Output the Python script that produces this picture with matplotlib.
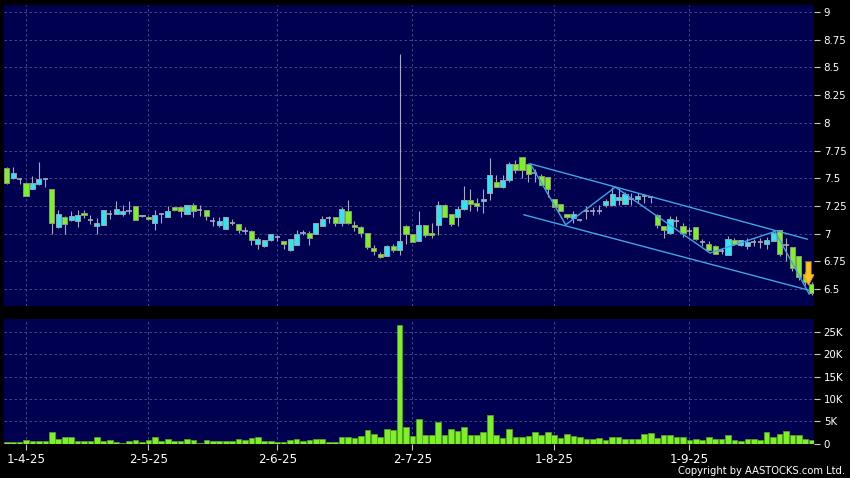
import matplotlib
matplotlib.use("Agg")
import matplotlib.pyplot as plt
from matplotlib.patches import Polygon
import numpy as np

# ---------------------------------------------------------------------------
# data, one candle per trading day
# ---------------------------------------------------------------------------
opens = [7.59, 7.50, 7.49, 7.46, 7.40, 7.45, 7.49, 7.40, 7.06, 7.15,
         7.12, 7.11, 7.19, 7.12, 7.07, 7.08, 7.18, 7.18, 7.18, 7.20,
         7.25, 7.16, 7.15, 7.10, 7.18, 7.15, 7.24, 7.24, 7.18, 7.26,
         7.21, 7.21, 7.11, 7.08, 7.04, 7.10, 7.09, 7.02, 7.02, 6.91,
         6.89, 6.94, 6.97, 6.93, 6.85, 6.90, 7.01, 7.01, 7.00, 7.07,
         7.14, 7.15, 7.10, 7.20, 7.08, 7.06, 7.01, 6.87, 6.82, 6.80,
         6.89, 6.85, 7.07, 7.00, 6.93, 7.08, 7.01, 7.08, 7.26, 7.18,
         7.15, 7.22, 7.30, 7.28, 7.29, 7.37, 7.47, 7.42, 7.48, 7.63,
         7.69, 7.63, 7.55, 7.52, 7.51, 7.31, 7.27, 7.18, 7.14, 7.12,
         7.20, 7.20, 7.20, 7.26, 7.26, 7.30, 7.27, 7.31, 7.31, 7.34,
         7.33, 7.17, 7.07, 7.01, 7.11, 7.07, 7.02, 7.06, 6.92, 6.91,
         6.89, 6.84, 6.81, 6.94, 6.90, 6.89, 6.92, 6.92, 6.91, 6.93,
         7.03, 6.90, 6.88, 6.80, 6.62, 6.55]
highs = [7.60, 7.60, 7.50, 7.47, 7.52, 7.65, 7.50, 7.40, 7.21, 7.16,
         7.20, 7.21, 7.21, 7.165, 7.14, 7.21, 7.21, 7.29, 7.26, 7.29,
         7.25, 7.17, 7.16, 7.21, 7.19, 7.25, 7.24, 7.24, 7.26, 7.28,
         7.26, 7.21, 7.15, 7.15, 7.15, 7.13, 7.09, 7.06, 7.03, 6.97,
         6.94, 7.00, 6.99, 6.93, 6.95, 7.03, 7.03, 7.02, 7.10, 7.16,
         7.16, 7.15, 7.24, 7.30, 7.11, 7.07, 7.01, 6.90, 6.83, 6.90,
         6.91, 8.62, 7.08, 7.00, 7.20, 7.08, 7.10, 7.29, 7.27, 7.18,
         7.25, 7.43, 7.40, 7.32, 7.40, 7.68, 7.53, 7.53, 7.65, 7.66,
         7.69, 7.64, 7.58, 7.54, 7.51, 7.31, 7.27, 7.18, 7.20, 7.13,
         7.25, 7.24, 7.26, 7.31, 7.42, 7.41, 7.38, 7.37, 7.37, 7.36,
         7.34, 7.18, 7.07, 7.16, 7.16, 7.10, 7.06, 7.06, 6.95, 6.93,
         6.90, 6.87, 6.98, 6.96, 6.94, 6.96, 6.95, 6.96, 6.97, 7.03,
         7.03, 6.96, 6.88, 6.80, 6.65, 6.56]
lows = [7.45, 7.49, 7.45, 7.34, 7.40, 7.44, 7.42, 7.00, 7.05, 7.00,
        7.11, 7.06, 7.14, 7.09, 7.00, 7.08, 7.13, 7.18, 7.16, 7.18,
        7.12, 7.15, 7.12, 7.03, 7.10, 7.15, 7.20, 7.15, 7.18, 7.15,
        7.16, 7.12, 7.07, 7.06, 7.04, 7.08, 7.01, 7.00, 6.90, 6.86,
        6.88, 6.93, 6.93, 6.86, 6.84, 6.90, 6.99, 6.90, 7.00, 7.07,
        7.10, 7.07, 7.07, 7.09, 7.02, 6.97, 6.86, 6.81, 6.78, 6.80,
        6.83, 6.81, 6.91, 6.92, 6.93, 6.97, 6.96, 6.99, 7.15, 7.07,
        7.07, 7.21, 7.20, 7.20, 7.19, 7.30, 7.42, 7.41, 7.47, 7.55,
        7.50, 7.47, 7.47, 7.44, 7.33, 7.24, 7.20, 7.13, 7.10, 7.11,
        7.13, 7.17, 7.18, 7.24, 7.25, 7.26, 7.27, 7.26, 7.28, 7.28,
        7.28, 7.05, 6.96, 7.00, 7.06, 6.97, 6.99, 6.94, 6.89, 6.85,
        6.82, 6.82, 6.81, 6.90, 6.89, 6.86, 6.89, 6.87, 6.86, 6.93,
        6.80, 6.75, 6.66, 6.58, 6.54, 6.45]
closes = [7.46, 7.55, 7.49, 7.34, 7.46, 7.49, 7.49, 7.10, 7.18, 7.09,
          7.16, 7.17, 7.17, 7.12, 7.10, 7.21, 7.18, 7.22, 7.20, 7.20,
          7.12, 7.17, 7.13, 7.17, 7.18, 7.20, 7.21, 7.20, 7.26, 7.20,
          7.21, 7.16, 7.11, 7.11, 7.15, 7.10, 7.03, 7.02, 6.94, 6.95,
          6.94, 7.00, 6.97, 6.91, 6.95, 7.00, 7.01, 6.96, 7.10, 7.13,
          7.14, 7.10, 7.22, 7.10, 7.06, 7.01, 6.88, 6.84, 6.79, 6.89,
          6.85, 6.93, 7.00, 6.92, 7.08, 6.99, 6.99, 7.26, 7.15, 7.09,
          7.22, 7.30, 7.27, 7.25, 7.31, 7.53, 7.42, 7.48, 7.63, 7.57,
          7.57, 7.54, 7.55, 7.44, 7.40, 7.24, 7.20, 7.15, 7.18, 7.12,
          7.20, 7.20, 7.20, 7.29, 7.36, 7.33, 7.36, 7.31, 7.34, 7.34,
          7.33, 7.08, 7.03, 7.13, 7.11, 7.01, 7.02, 6.95, 6.92, 6.85,
          6.82, 6.84, 6.95, 6.91, 6.94, 6.92, 6.92, 6.92, 6.94, 7.01,
          6.82, 6.90, 6.69, 6.61, 6.56, 6.46]
volumes = [300, 300, 300, 700, 450, 450, 450, 2500, 1000, 1500,
           1350, 600, 600, 450, 1400, 600, 750, 300, 200, 450,
           750, 300, 750, 1500, 450, 1100, 600, 450, 900, 750,
           200, 800, 500, 500, 500, 600, 1100, 750, 1200, 1400,
           500, 450, 400, 400, 700, 1100, 600, 800, 1100, 1000,
           300, 400, 1400, 1350, 1300, 1650, 3000, 2200, 1500, 3150,
           3000, 26650, 3800, 1650, 5400, 1900, 1900, 4850, 1900, 3300,
           2850, 3700, 1900, 1950, 2550, 6350, 1900, 1300, 3150, 1500,
           1550, 1650, 2550, 2000, 2550, 1950, 1300, 2100, 1650, 1350,
           1100, 900, 1200, 800, 1500, 1500, 1050, 1100, 900, 2100,
           2250, 1200, 1900, 1950, 1400, 1500, 700, 1050, 700, 1400,
           1000, 1050, 1800, 750, 450, 1000, 1000, 700, 2500, 1400,
           2100, 2900, 1900, 1800, 1100, 700]

date_labels = ['1-4-25', '2-5-25', '2-6-25', '2-7-25', '1-8-25', '1-9-25']
date_index = [3, 22, 42, 63, 85, 106]

# drawn trend lines (candle index, price)
zigzag_x = [81.3, 86.8, 94.5, 109.2, 119.3, 124.6]
zigzag_y = [7.63, 7.08, 7.42, 6.825, 7.02, 6.455]
upper_x = [81.3, 124.3]
upper_y = [7.63, 6.95]
lower_x = [80.3, 124.5]
lower_y = [7.17, 6.49]

price_ticks = [6.5, 6.75, 7, 7.25, 7.5, 7.75, 8, 8.25, 8.5, 8.75, 9]
vol_ticks = [0, 5000, 10000, 15000, 20000, 25000]

# ---------------------------------------------------------------------------
BG = '#000050'
GREEN = '#7ef02a'
CYAN = '#2ee6f0'
GRID = '#50508c'
WICK = '#a8a8c0'
LINE = '#3fa4e6'

plt.rcParams['font.family'] = 'DejaVu Sans'

o = np.array(opens)
h = np.array(highs)
l = np.array(lows)
c = np.array(closes)
v = np.array(volumes)
x = np.arange(len(o))

fig = plt.figure(figsize=(8.5, 4.78), dpi=100, facecolor='black')
ax = fig.add_axes([4 / 850, 1 - 306 / 478, 810 / 850, 301 / 478])
axv = fig.add_axes([4 / 850, 1 - 443.5 / 478, 810 / 850, 124.5 / 478])

for a in (ax, axv):
    a.set_facecolor(BG)
    for s in a.spines.values():
        s.set_visible(False)
    a.set_xlim(-0.42, 125.35)
    a.set_xticks(date_index)
    a.yaxis.tick_right()
    a.grid(True, color=GRID, lw=0.6, ls=(0, (3, 3)), zorder=0)
    a.set_axisbelow(True)
    a.tick_params(axis='y', colors='#c8c8c8', labelcolor='white', length=4,
                  width=0.8, pad=3, labelsize=7.4)
    a.tick_params(axis='x', colors='#c8c8c8', labelcolor='white', length=4,
                  width=0.8, pad=3, labelsize=8.6)

# ---- price candles ----
up = c > o
dn = c < o
flat = c == o
ax.vlines(x, l, h, color=WICK, lw=0.8, zorder=2)
ax.bar(x[up], (c - o)[up], bottom=o[up], width=0.8, color=CYAN,
       edgecolor='#9aa0b0', lw=0.7, zorder=3)
ax.bar(x[dn], (o - c)[dn], bottom=c[dn], width=0.8, color=GREEN,
       edgecolor='#8c9a70', lw=0.7, zorder=3)
ax.hlines(c[flat], x[flat] - 0.4, x[flat] + 0.4, color=WICK, lw=1.2, zorder=3)

ax.plot(zigzag_x, zigzag_y, color=LINE, lw=1.0, zorder=4)
ax.plot(upper_x, upper_y, color=LINE, lw=1.0, zorder=4)
ax.plot(lower_x, lower_y, color=LINE, lw=1.0, zorder=4)

# yellow down arrow at the last candles
ax_x, top, neck, tip = 124.5, 6.745, 6.63, 6.535
arrow = Polygon([(ax_x - 0.4, top), (ax_x + 0.4, top), (ax_x + 0.4, neck),
                 (ax_x + 0.85, neck), (ax_x, tip), (ax_x - 0.85, neck),
                 (ax_x - 0.4, neck)], closed=True, facecolor='#f7c51e',
                edgecolor='#e09a10', lw=0.6, zorder=5)
ax.add_patch(arrow)

ax.set_ylim(6.347, 9.063)
ax.set_yticks(price_ticks)
ax.set_yticklabels(['6.5', '6.75', '7', '7.25', '7.5', '7.75', '8', '8.25',
                    '8.5', '8.75', '9'])
ax.tick_params(axis='x', length=0, labelbottom=False)

# ---- volume ----
axv.bar(x, v, width=0.88, color=GREEN, edgecolor='#5aa81e', lw=0.5, zorder=3)
axv.set_ylim(0, 27930)
axv.set_yticks(vol_ticks)
axv.set_yticklabels(['0', '5K', '10K', '15K', '20K', '25K'])
axv.set_xticklabels(date_labels)

fig.text(845 / 850, 1 - 476 / 478, 'Copyright by AASTOCKS.com Ltd.',
         color='white', fontsize=7.2, ha='right', va='bottom')

fig.savefig('out.png', dpi=100, facecolor='black')
plt.close(fig)
